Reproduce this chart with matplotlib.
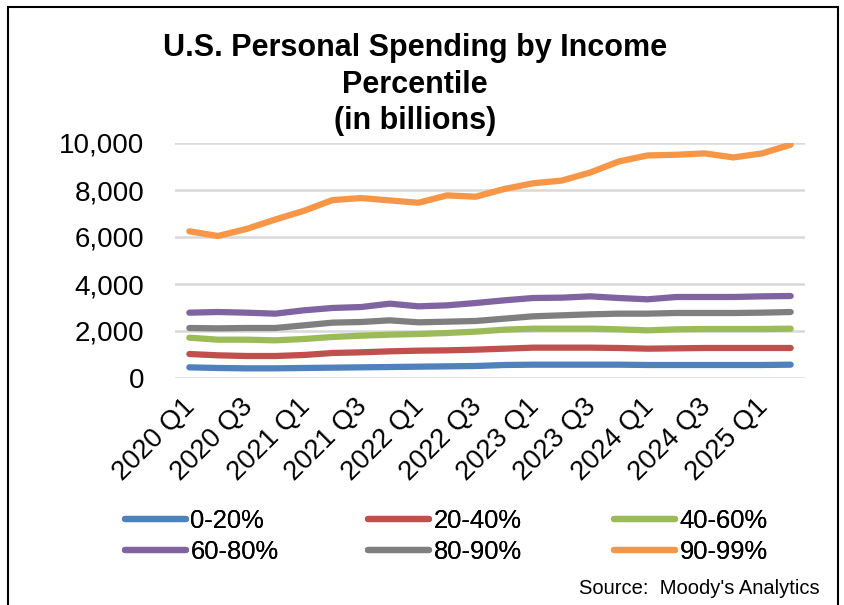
import matplotlib
matplotlib.use("Agg")
import matplotlib.pyplot as plt
from matplotlib.patches import Rectangle
from matplotlib.ticker import FuncFormatter
from matplotlib.transforms import ScaledTranslation

quarters = [f"{y} Q{q}" for y in range(2020, 2026) for q in range(1, 5)][:22]

p0_20 = [454, 426, 411, 411, 426, 440, 454, 468, 482, 496, 511, 553, 567, 567, 567, 567, 553, 553, 553, 553, 553, 567]
p20_40 = [1021, 965, 936, 936, 979, 1064, 1092, 1135, 1163, 1177, 1206, 1248, 1291, 1291, 1291, 1277, 1248, 1262, 1277, 1277, 1277, 1277]
p40_60 = [1716, 1631, 1631, 1603, 1660, 1745, 1801, 1844, 1872, 1915, 1972, 2057, 2099, 2099, 2099, 2071, 2028, 2071, 2085, 2085, 2085, 2099]
p60_80 = [2780, 2808, 2780, 2738, 2880, 2980, 3020, 3163, 3050, 3092, 3191, 3305, 3404, 3418, 3475, 3404, 3348, 3447, 3447, 3447, 3475, 3489]
p80_90 = [2128, 2113, 2128, 2128, 2241, 2355, 2383, 2454, 2369, 2397, 2426, 2525, 2624, 2667, 2709, 2738, 2738, 2766, 2766, 2766, 2780, 2808]
p90_99 = [6243, 6043, 6343, 6743, 7114, 7571, 7657, 7557, 7457, 7771, 7714, 8043, 8286, 8400, 8743, 9214, 9471, 9500, 9557, 9386, 9557, 9929]

series_labels = ["0-20%", "20-40%", "40-60%", "60-80%", "80-90%", "90-99%"]
series_values = [p0_20, p20_40, p40_60, p60_80, p80_90, p90_99]
colors = ["#4F81BD", "#C0504D", "#9BBB59", "#8064A2", "#7F7F7F", "#F79646"]

plt.rcParams['font.family'] = ['Liberation Sans', 'DejaVu Sans']

fig = plt.figure(figsize=(8.45, 6.05), dpi=100)
ax = fig.add_axes([175/845, 1 - 378/605, 630/845, 235/605])

x = list(range(len(quarters)))
handles = []
for lab, vals, c in zip(series_labels, series_values, colors):
    h, = ax.plot(x, vals, color=c, lw=4.5, solid_capstyle='round', label=lab)
    handles.append(h)

ax.set_xlim(-0.5, len(quarters) - 0.5)
ax.set_ylim(0, 10000)
ax.set_yticks(range(0, 10001, 2000))
ax.yaxis.set_major_formatter(FuncFormatter(lambda v, p: f"{int(v):,}"))
ax.set_xticks(x[::2])
ax.tick_params(axis='y', labelsize=20, length=0, pad=22)
ax.tick_params(axis='x', length=0, pad=6)
ax.set_xticklabels(quarters[::2], rotation=45, ha='right', rotation_mode='anchor', fontsize=19.5)
offset = ScaledTranslation(-7/100, -7/100, fig.dpi_scale_trans)
for lbl in ax.get_xticklabels():
    lbl.set_transform(lbl.get_transform() + offset)
ax.grid(axis='y', color='#D9D9D9', lw=1.8)
ax.set_axisbelow(True)
for s in ax.spines.values():
    s.set_visible(False)

# legend: three columns, placed individually
col_x = [125, 368, 614]
for ci in range(3):
    idx = [ci, ci + 3]
    leg = fig.legend(handles=[handles[i] for i in idx], labels=[series_labels[i] for i in idx],
                     loc='center left', bbox_to_anchor=(col_x[ci]/845, 1 - 536.5/605),
                     frameon=False, fontsize=18.4, handlelength=2.4, handletextpad=0.16,
                     labelspacing=0.25, borderpad=0, borderaxespad=0)
    fig.add_artist(leg)

fig.text(0.491, 1 - 48/605, "U.S. Personal Spending by Income", ha='center', va='center',
         fontsize=22, fontweight='bold')
fig.text(0.491, 1 - 85/605, "Percentile", ha='center', va='center',
         fontsize=22, fontweight='bold')
fig.text(0.491, 1 - 121/605, "(in billions)", ha='center', va='center',
         fontsize=22, fontweight='bold')
fig.text(820/845, 1 - 588/605, "Source:  Moody's Analytics", ha='right', va='center', fontsize=14.5)

fig.patches.append(Rectangle((8/845, -0.01), 830/845, 1 - 7/605 + 0.01, transform=fig.transFigure,
                             fill=False, edgecolor='black', lw=1.5))

fig.savefig("out.png", dpi=100)
